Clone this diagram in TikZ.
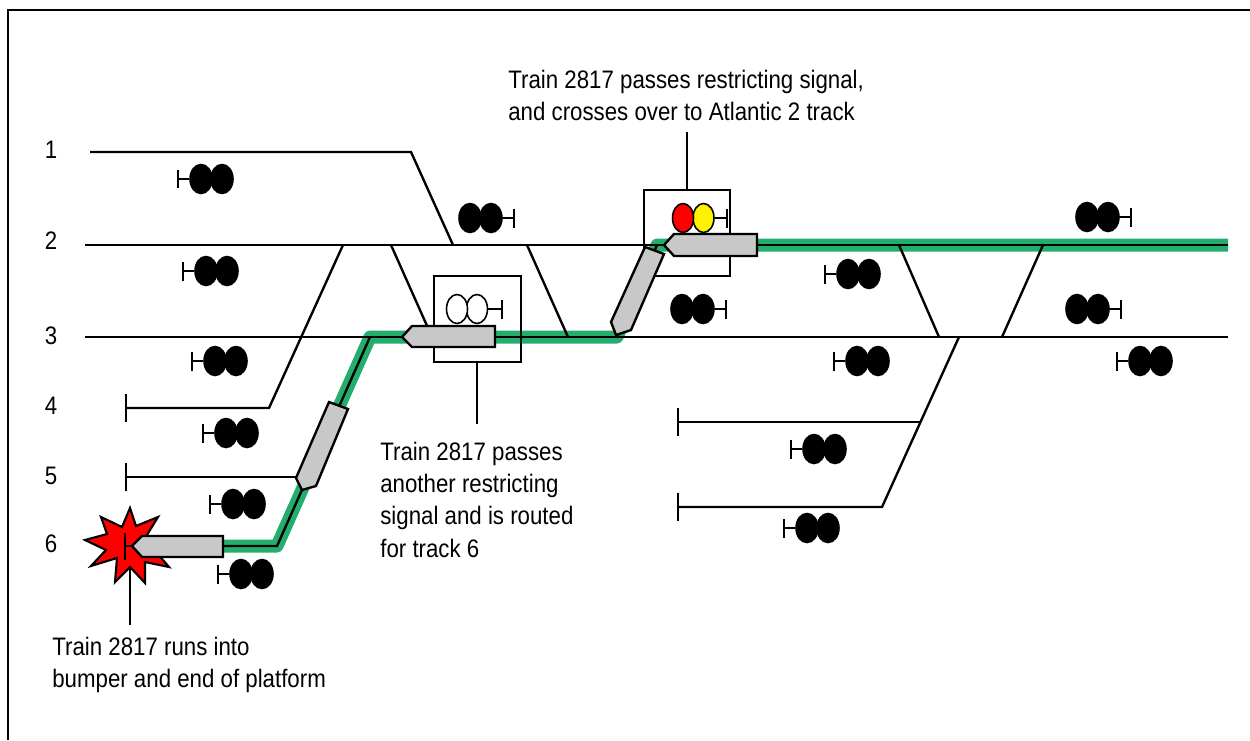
\documentclass[tikz,border=0pt]{standalone}
\usepackage{fontspec}
\setmainfont[FakeStretch=0.88]{Liberation Sans}
\usetikzlibrary{
    arrows.meta,
    shapes.geometric
}
\definecolor{routegreen}{RGB}{36,174,110}
\definecolor{traingray}{RGB}{200,200,200}
\tikzset{
  track/.style={line width=1.35pt},
  route/.style={routegreen, line width=0.26cm, line join=round},
  lamp/.style={draw, ellipse, inner sep=0pt, minimum width=0.44cm, minimum height=0.58cm, line width=0.9pt},
  stem/.style={line width=1.35pt, -{Bar[width=0.38cm,length=0pt]}},
  train/.style={draw, fill=traingray, line width=1.35pt, line join=miter},
  caption/.style={align=left, anchor=west, font=\fontsize{14.4}{18.4}\selectfont, inner sep=0pt},
  tracklabel/.style={anchor=center, font=\fontsize{14.4}{16}\selectfont, inner sep=0pt}
}
\begin{document}
\begin{tikzpicture}[x=0.02cm, y=-0.02cm, line cap=butt]
  \useasboundingbox (0,0) rectangle (1250,740);

  % Frame
  \draw[line width=1.5pt] (8,740) -- (8,10) -- (1250,10);

  % Route of train
  \draw[route] (224,546) -- (277,546) -- (370,337) -- (617,337) -- (657,245) -- (1228,245);

  % Junctions
  \coordinate (J4) at (269,408);
  \coordinate (J5) at (297,477);
  \coordinate (J6) at (277,546);
  \coordinate (K3) at (370,337);
  \coordinate (R1) at (920,422);
  \coordinate (R2) at (882,507);
  \coordinate (R3) at (959,337);

  % Main tracks
  \draw[track] (90,152) -- (411,152) -- (453,245);
  \draw[track] (85,245) -- (1228,245);
  \draw[track] (85,337) -- (1228,337);

  % Yard tracks 4, 5, 6
  \draw[track] (126,394) -- (126,422);
  \draw[track] (126,408) -- (J4) -- (343,245);
  \draw[track] (126,463) -- (126,491);
  \draw[track] (126,477) -- (J5);
  \draw[track] (125,546) -- (J6) -- (K3);

  % Crossovers
  \draw[track] (391,245) -- (432,337);
  \draw[track] (527,245) -- (568,337);
  \draw[track] (617,337) -- (657,245);
  \draw[track] (899,245) -- (939,337);
  \draw[track] (1043,245) -- (1002,337);

  % Right hand branch
  \draw[track] (678,408) -- (678,436);
  \draw[track] (678,422) -- (R1);
  \draw[track] (678,493) -- (678,521);
  \draw[track] (678,507) -- (R2) -- (R3);

  % Signals, bar on the left
  \foreach \b/\y [count=\i] in {177/179, 182/271, 191/361, 202/433, 209/504, 217/574,
      824/274, 833/361, 790/449, 783/528, 1116/361} {
    \node[lamp, fill=black] (LA\i) at (\b+24,\y) {};
    \node[lamp, fill=black] (LB\i) at (\b+45,\y) {};
    \coordinate (LC\i) at (\b,\y);
    \draw[stem] (LA\i) -- (LC\i);
  }

  % Signals, bar on the right
  \foreach \b/\y [count=\i] in {515/218, 727/309, 1132/217, 1122/309} {
    \node[lamp, fill=black] (RA\i) at (\b-24,\y) {};
    \node[lamp, fill=black] (RB\i) at (\b-45,\y) {};
    \coordinate (RC\i) at (\b,\y);
    \draw[stem] (RA\i) -- (RC\i);
  }

  % Restricting signals
  \node[lamp, fill=white, minimum width=0.42cm] (W1) at (477,309) {};
  \node[lamp, fill=white, minimum width=0.42cm] (W2) at (457,309) {};
  \coordinate (W3) at (503,309);
  \draw[stem] (W1) -- (W3);
  \node[lamp, fill=yellow, minimum width=0.42cm] (Y1) at (703.5,218) {};
  \node[lamp, fill=red, minimum width=0.42cm] (Y2) at (683,218) {};
  \coordinate (Y3) at (728,218);
  \draw[stem] (Y1) -- (Y3);

  % Boxes round the signals
  \draw[track] (434,276) rectangle (521,362);
  \draw[track] (644,190) rectangle (730,276);

  % Crash
  \draw[draw=black, fill=red, line width=1.2pt, line join=miter]
    (130,508) -- (136,526) -- (158,517) -- (147,535) -- (150,545) -- (169,567)
    -- (145,562) -- (145,583) -- (130,567) -- (115,582) -- (117,558) -- (91,566) -- (106,550)
    -- (85,540) -- (107,534) -- (101,517) -- (122,527) -- cycle;
  \draw[track] (125,533) -- (125,560);
  \draw[track] (125,546) -- (137,546);

  % Train cars
  \draw[train] (223,536) -- (142,536) -- (132,546) -- (142,557) -- (223,557) -- cycle;
  \draw[train] (329,402) -- (348,409) -- (316,486) -- (302,490) -- (296,478) -- cycle;
  \draw[train] (495,326) -- (412,326) -- (402,337) -- (412,347) -- (495,347) -- cycle;
  \draw[train] (645,247) -- (664,254) -- (631,330) -- (616,335) -- (611,322) -- cycle;
  \draw[train] (757,234) -- (674,234) -- (664,245) -- (674,256) -- (757,256) -- cycle;

  % Track numbers
  \node[tracklabel] (T1) at (51,150) {1};
  \node[tracklabel] (T2) at (51,241) {2};
  \node[tracklabel] (T3) at (51,336) {3};
  \node[tracklabel] (T4) at (51,406) {4};
  \node[tracklabel] (T5) at (51,476) {5};
  \node[tracklabel] (T6) at (51,544) {6};

  % Captions
  \node[caption] (C1) at (508,95.5) {Train 2817 passes restricting signal,\\and crosses over to Atlantic 2 track};
  \node[caption] (C2) at (380,499.5) {Train 2817 passes\\another restricting\\signal and is routed\\for track 6};
  \node[caption] (C3) at (52,665) {Train 2817 runs into\\bumper and end of platform};

  % Leaders
  \coordinate (A1) at (687,132);
  \coordinate (A2) at (687,190);
  \coordinate (A3) at (477,362);
  \coordinate (A4) at (477,424);
  \coordinate (A5) at (130,567);
  \coordinate (A6) at (130,625);
  \draw[track] (A1) -- (A2);
  \draw[track] (A3) -- (A4);
  \draw[track] (A5) -- (A6);
\end{tikzpicture}
\end{document}
